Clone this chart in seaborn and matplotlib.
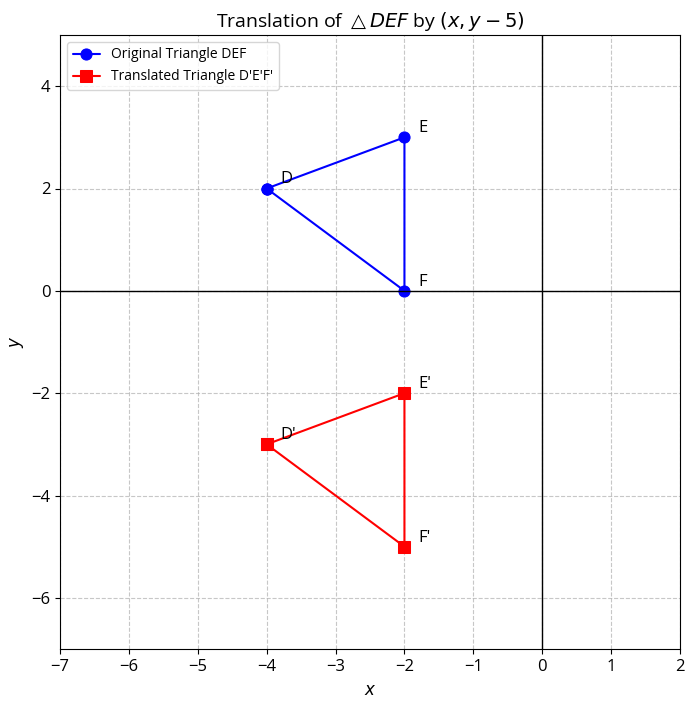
import pandas as pd
import matplotlib.pyplot as plt
import seaborn as sns

# --- DONNEES ---
labels = ['D', 'E', 'F']
x_orig = [-4, -2, -2]
y_orig = [2, 3, 0]
shift_y = -5
x_trans = [-4, -2, -2]
y_trans = [-3, -2, -5]
labels_trans = ["D'", "E'", "F'"]

sns.set_style('ticks')
plt.rcParams['font.family'] = ['Open Sans', 'DejaVu Sans']
plt.rcParams['mathtext.fontset'] = 'dejavusans'
plt.rcParams.update({'text.color': 'black', 'axes.labelcolor': 'black',
                     'xtick.color': 'black', 'ytick.color': 'black'})

# triangles fermes
df_orig = pd.DataFrame({'x': x_orig + x_orig[:1], 'y': y_orig + y_orig[:1]})
df_trans = pd.DataFrame({'x': x_trans + x_trans[:1], 'y': y_trans + y_trans[:1]})

fig, ax = plt.subplots(figsize=(6.94, 7.06), dpi=100)
fig.subplots_adjust(left=60 / 694, right=680 / 694, top=1 - 35 / 706, bottom=1 - 649 / 706)

sns.lineplot(data=df_orig, x='x', y='y', sort=False, estimator=None, color='blue',
             marker='o', markersize=8, markeredgecolor='blue', label='Original Triangle DEF', ax=ax)
sns.lineplot(data=df_trans, x='x', y='y', sort=False, estimator=None, color='red',
             marker='s', markersize=8, markeredgecolor='red', label="Translated Triangle D'E'F'", ax=ax)

for lx, ly, lab in zip(x_orig, y_orig, labels):
    ax.text(lx + 0.2, ly + 0.1, lab, fontsize=12)
for lx, ly, lab in zip(x_trans, y_trans, labels_trans):
    ax.text(lx + 0.2, ly + 0.1, lab, fontsize=12)

ax.axhline(0, color='black', linewidth=1)
ax.axvline(0, color='black', linewidth=1)
ax.set_xlim(-7, 2)
ax.set_ylim(-7, 5)
ax.grid(True, linestyle='--', alpha=0.7, color='#b0b0b0')
ax.set_title(r'Translation of $\triangle DEF$ by $(x, y-5)$', fontsize=14)
ax.set_xlabel(r'$x$', fontsize=12, labelpad=6)
ax.set_ylabel(r'$y$', fontsize=12)
ax.tick_params(labelsize=12)
ax.legend(loc='upper left', fontsize=10, edgecolor='#cccccc')
for s in ax.spines.values():
    s.set_color('black')

plt.savefig('out.png', dpi=100)
